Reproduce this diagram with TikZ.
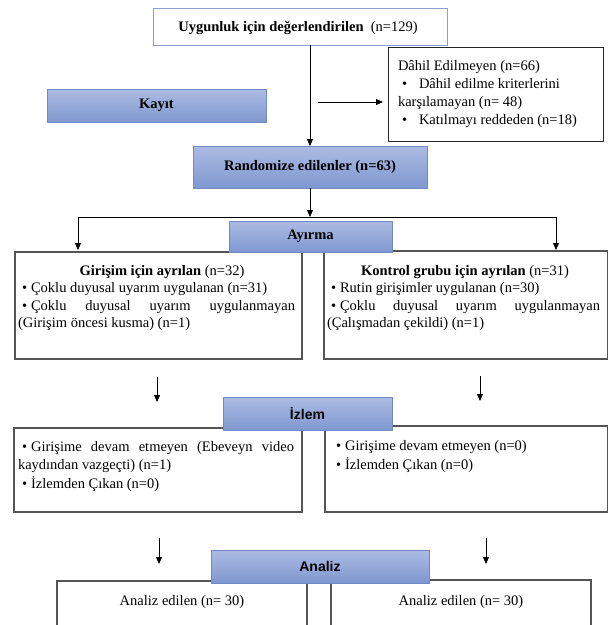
\documentclass[tikz,border=0pt]{standalone}
\usepackage{fontspec}
\setmainfont{Liberation Serif}
\newfontfamily\arialf{Liberation Sans}
\usetikzlibrary{arrows.meta}
\definecolor{bluetop}{RGB}{172,187,227}
\definecolor{bluebot}{RGB}{127,152,208}
\definecolor{blueedge}{RGB}{112,138,198}
\definecolor{boxedge}{RGB}{85,85,85}
\definecolor{topedge}{RGB}{140,160,205}
\newcommand{\blt}{•\kern4pt}
\begin{document}
\begin{tikzpicture}[x=1pt,y=-1pt,
  every node/.style={inner sep=0pt, outer sep=0pt},
  txt/.style={font=\fontsize{14.5}{17}\selectfont},
  plainbox/.style={draw=boxedge, line width=1.1pt, fill=white, anchor=north west},
  thinbox/.style={draw=black!85, line width=0.8pt, fill=white, anchor=north west},
  topbox/.style={draw=topedge, line width=0.8pt, fill=white, anchor=north west},
  bluebox/.style={draw=blueedge, line width=0.8pt, top color=bluetop, bottom color=bluebot, anchor=north west, font=\fontsize{14.5}{17}\selectfont\bfseries},
  sansblue/.style={bluebox, font=\fontsize{14}{17}\selectfont\arialf\bfseries},
  arr/.style={-{Triangle[length=7pt,width=6pt]}, line width=0.8pt},
  conn/.style={line width=0.8pt}
]
\useasboundingbox (0,0) rectangle (608,625);
\fill[white] (0,0) rectangle (608,625);

% boxes
\node[topbox, minimum width=294pt, minimum height=37pt] (top) at (153,8) {};
\node[thinbox, minimum width=215pt, minimum height=94pt] (excl) at (388,47) {};
\node[bluebox, minimum width=219pt, minimum height=33pt] (kayit) at (47,89) {Kayıt};
\node[bluebox, minimum width=234pt, minimum height=42pt] (rand) at (193,146) {Randomize edilenler (n=63)};
\node[plainbox, minimum width=287pt, minimum height=107pt] (lbox) at (15,252) {};
\node[plainbox, minimum width=284pt, minimum height=108pt] (rbox) at (324,251) {};
\node[bluebox, minimum width=163pt, minimum height=31pt] (ayirma) at (229,221) {Ayırma};
\node[plainbox, minimum width=288pt, minimum height=84pt] (lizl) at (14,428) {};
\node[plainbox, minimum width=283pt, minimum height=86pt] (rizl) at (325,426) {};
\node[sansblue, minimum width=169pt, minimum height=33pt] (izlem) at (223,397) {İzlem};
\node[plainbox, minimum width=250pt, minimum height=60pt] (lan) at (57,581) {};
\node[plainbox, minimum width=260pt, minimum height=60pt] (ran) at (331,580) {};
\node[sansblue, minimum width=218pt, minimum height=33pt] (analiz) at (211,550) {Analiz};

% texts
\node[txt, anchor=base] (toptxt) at (298,31) {\textbf{Uygunluk için değerlendirilen}\ \ (n=129)};

\node[txt, anchor=base west] (ex1) at (398,70) {Dâhil Edilmeyen (n=66)};
\node[txt, anchor=base west] (exb1) at (402,88) {•};
\node[txt, anchor=base west] (ex2) at (419,88) {Dâhil edilme kriterlerini};
\node[txt, anchor=base west] (ex3) at (398,106) {karşılamayan (n= 48)};
\node[txt, anchor=base west] (exb2) at (402,124) {•};
\node[txt, anchor=base west] (ex4) at (419,124) {Katılmayı reddeden (n=18)};

\node[txt, anchor=base] (lt1) at (162,275) {\textbf{Girişim için ayrılan} (n=32)};
\node[txt, anchor=base west] (lt2) at (22,292) {\blt Çoklu duyusal uyarım uygulanan (n=31)};
\node[txt, anchor=base west] (lt3) at (22,310) {\makebox[273pt][s]{\blt Çoklu duyusal uyarım uygulanmayan}};
\node[txt, anchor=base west] (lt4) at (18,327) {(Girişim öncesi kusma) (n=1)};

\node[txt, anchor=base] (rt1) at (465,275) {\textbf{Kontrol grubu için ayrılan} (n=31)};
\node[txt, anchor=base west] (rt2) at (331,292) {\blt Rutin girişimler uygulanan (n=30)};
\node[txt, anchor=base west] (rt3) at (331,310) {\makebox[269pt][s]{\blt Çoklu duyusal uyarım uygulanmayan}};
\node[txt, anchor=base west] (rt4) at (327,327) {(Çalışmadan çekildi) (n=1)};

\node[txt, anchor=base west] (li1) at (22,451) {\makebox[272pt][s]{\blt Girişime devam etmeyen (Ebeveyn video}};
\node[txt, anchor=base west] (li2) at (18,469) {kaydından vazgeçti) (n=1)};
\node[txt, anchor=base west] (li3) at (22,488) {\blt İzlemden Çıkan (n=0)};

\node[txt, anchor=base west] (ri1) at (336,450) {\blt Girişime devam etmeyen (n=0)};
\node[txt, anchor=base west] (ri2) at (336,469) {\blt İzlemden Çıkan (n=0)};

\node[txt, anchor=base] (la1) at (182,605) {Analiz edilen (n= 30)};
\node[txt, anchor=base] (ra1) at (461,605) {Analiz edilen (n= 30)};

% connectors
\draw[arr] (top.south -| rand.north) -- (rand.north);
\coordinate (hs) at (318,102);
\draw[arr, shorten >=5pt] (hs) -- (hs -| excl.west);
\coordinate (sl) at (78,217);
\coordinate (sr) at (556,217);
\draw[arr] (rand.south) -- (rand.south |- sl);
\draw[conn] (sl) -- (sr);
\draw[arr, shorten >=2pt] (sl) -- (sl |- lbox.north);
\draw[arr, shorten >=1pt] (sr) -- (sr |- rbox.north);
\coordinate (ia1) at (157,377); \coordinate (ib1) at (157,402);
\coordinate (ia2) at (480,376); \coordinate (ib2) at (480,401);
\draw[arr] (ia1) -- (ib1);
\draw[arr] (ia2) -- (ib2);
\coordinate (aa1) at (159,538); \coordinate (ab1) at (159,564);
\coordinate (aa2) at (486,538); \coordinate (ab2) at (486,564);
\draw[arr] (aa1) -- (ab1);
\draw[arr] (aa2) -- (ab2);
\end{tikzpicture}
\end{document}
